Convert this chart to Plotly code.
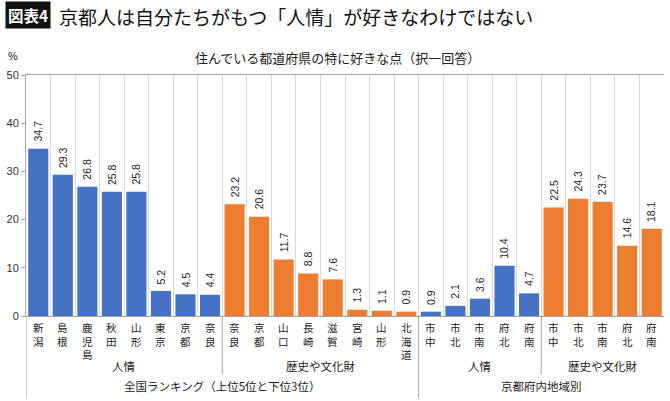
import plotly.graph_objects as go

# ---------------- data ----------------
nat_ninjo_labels = ["新潟", "島根", "鹿児島", "秋田", "山形", "東京", "京都", "奈良"]
nat_ninjo_values = [34.7, 29.3, 26.8, 25.8, 25.8, 5.2, 4.5, 4.4]
nat_hist_labels = ["奈良", "京都", "山口", "長崎", "滋賀", "宮崎", "山形", "北海道"]
nat_hist_values = [23.2, 20.6, 11.7, 8.8, 7.6, 1.3, 1.1, 0.9]
kyo_ninjo_labels = ["市中", "市北", "市南", "府北", "府南"]
kyo_ninjo_values = [0.9, 2.1, 3.6, 10.4, 4.7]
kyo_hist_labels = ["市中", "市北", "市南", "府北", "府南"]
kyo_hist_values = [22.5, 24.3, 23.7, 14.6, 18.1]

group1_names = ["人情", "歴史や文化財", "人情", "歴史や文化財"]
group2_names = ["全国ランキング（上位5位と下位3位）", "京都府内地域別"]
y_ticks = [0, 10, 20, 30, 40, 50]

title_tag = "図表4"
title_text = "京都人は自分たちがもつ「人情」が好きなわけではない"
subtitle = "住んでいる都道府県の特に好きな点（択一回答）"

BLUE = "#4472C4"
ORANGE = "#ED7D31"
FONT = "Liberation Sans, Noto Sans CJK JP, sans-serif"
JFONT = "Noto Sans CJK JP, sans-serif"

series = [
    (nat_ninjo_labels, nat_ninjo_values, BLUE),
    (nat_hist_labels, nat_hist_values, ORANGE),
    (kyo_ninjo_labels, kyo_ninjo_values, BLUE),
    (kyo_hist_labels, kyo_hist_values, ORANGE),
]

# layout geometry (pixels)
W, H = 670, 401
ML, MR, MT, MB = 26, 6, 75, 84.5
PH = H - MT - MB


def py(Y):
    """pixel y -> paper y"""
    return (H - MB - Y) / PH


def px(X):
    return (X - ML) / (W - ML - MR)


fig = go.Figure()
annotations = []
shapes = []

pos = 0
group_spans = []
for labels, values, color in series:
    xs = list(range(pos, pos + len(values)))
    fig.add_trace(go.Bar(x=xs, y=values, marker=dict(color=color, line=dict(width=0)),
                         width=0.82, showlegend=False, hoverinfo="skip"))
    for x, v, lab in zip(xs, values, labels):
        annotations.append(dict(x=x, y=v, xref="x", yref="y", text=f"{v:.1f}",
                                textangle=-90, showarrow=False, yanchor="bottom",
                                xanchor="center", yshift=5,
                                font=dict(family=FONT, size=10.5, color="#222222")))
        annotations.append(dict(x=x, y=py(320), xref="x", yref="paper",
                                text="<br>".join(list(lab)), showarrow=False,
                                yanchor="top", xanchor="center", borderpad=0,
                                font=dict(family=JFONT, size=10.5, color="#222222")))
    group_spans.append((pos, pos + len(values) - 1))
    pos += len(values)

n = pos

# level-1 group labels
for (a, b), name in zip(group_spans, group1_names):
    annotations.append(dict(x=(a + b) / 2, y=py(367), xref="x", yref="paper", text=name,
                            showarrow=False, yanchor="middle", xanchor="center",
                            font=dict(family=JFONT, size=11.5, color="#222222")))
# level-2 group labels
sup = [(group_spans[0][0], group_spans[1][1]), (group_spans[2][0], group_spans[3][1])]
for (a, b), name in zip(sup, group2_names):
    annotations.append(dict(x=(a + b) / 2, y=py(387), xref="x", yref="paper", text=name,
                            showarrow=False, yanchor="middle", xanchor="center",
                            font=dict(family=JFONT, size=11.5, color="#222222")))

# separators below the axis
sep_color = "#a6a6a6"
shapes.append(dict(type="line", xref="x", yref="paper", x0=-0.5, x1=-0.5, y0=0, y1=py(399),
                   line=dict(color=sep_color, width=1)))
shapes.append(dict(type="line", xref="x", yref="paper", x0=group_spans[0][1] + 0.5,
                   x1=group_spans[0][1] + 0.5, y0=0, y1=py(375), line=dict(color=sep_color, width=1)))
shapes.append(dict(type="line", xref="x", yref="paper", x0=group_spans[1][1] + 0.5,
                   x1=group_spans[1][1] + 0.5, y0=0, y1=py(399), line=dict(color=sep_color, width=1)))
shapes.append(dict(type="line", xref="x", yref="paper", x0=group_spans[2][1] + 0.5,
                   x1=group_spans[2][1] + 0.5, y0=0, y1=py(375), line=dict(color=sep_color, width=1)))

# titles
annotations.append(dict(x=px(5), y=py(15), xref="paper", yref="paper", text="<b>" + title_tag + "</b>",
                        showarrow=False, xanchor="left", yanchor="middle", bgcolor="#111111",
                        borderpad=2, font=dict(family=JFONT, size=15.5, color="white")))
annotations.append(dict(x=px(57), y=py(16), xref="paper", yref="paper", text=title_text,
                        showarrow=False, xanchor="left", yanchor="middle",
                        font=dict(family=JFONT, size=19, color="#111111")))
annotations.append(dict(x=px(337), y=py(57), xref="paper", yref="paper", text=subtitle,
                        showarrow=False, xanchor="center", yanchor="middle",
                        font=dict(family=JFONT, size=13, color="#222222")))
annotations.append(dict(x=px(6), y=py(56), xref="paper", yref="paper", text="%",
                        showarrow=False, xanchor="left", yanchor="middle",
                        font=dict(family=FONT, size=11, color="#222222")))

fig.update_layout(
    width=W, height=H,
    margin=dict(l=ML, r=MR, t=MT, b=MB, pad=0),
    paper_bgcolor="white", plot_bgcolor="white",
    bargap=0.18,
    xaxis=dict(range=[-0.5, n - 0.5], tickvals=[i + 0.5 for i in range(n)],
               showticklabels=False, ticks="", showgrid=True, gridcolor="#d9d9d9",
               gridwidth=1, showline=True, linecolor="#a6a6a6", linewidth=1, mirror=True,
               zeroline=False, fixedrange=True),
    yaxis=dict(range=[0, 50], tickvals=y_ticks, showgrid=False, zeroline=False,
               showline=True, linecolor="#a6a6a6", linewidth=1, ticks="outside",
               ticklen=4, tickcolor="#a6a6a6",
               tickfont=dict(family=FONT, size=11, color="#333333"), fixedrange=True),
    annotations=annotations,
    shapes=shapes,
)

fig.write_html("out.html")
